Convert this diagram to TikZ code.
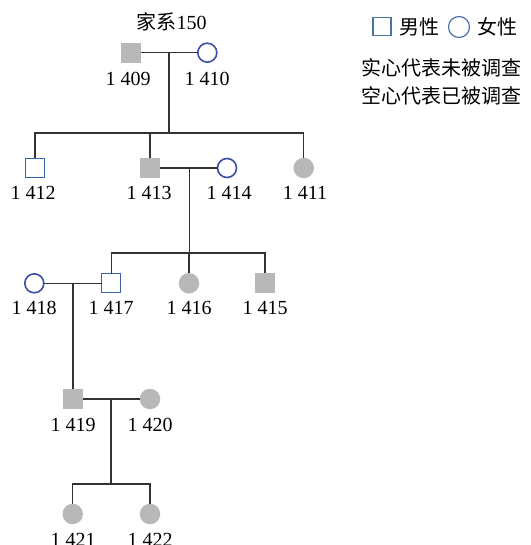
\documentclass[tikz,border=0pt]{standalone}
\usepackage{fontspec}
\setmainfont{Liberation Serif}
\newfontfamily\cjk{Noto Sans CJK SC}
\definecolor{fillgray}{HTML}{B8B8B8}
\definecolor{femblue}{HTML}{3D4FA3}
\definecolor{malblue}{HTML}{3A62AA}
\definecolor{legblue}{HTML}{4A74A4}
\definecolor{linegray}{HTML}{333333}
\begin{document}
\begin{tikzpicture}[x=1pt,y=-1pt,
  every node/.style={inner sep=0pt,outer sep=0pt},
  mfill/.style={rectangle,minimum size=20pt,fill=fillgray},
  mopen/.style={rectangle,minimum size=19pt,draw=malblue,line width=1.1pt,fill=white},
  ffill/.style={circle,minimum size=20.5pt,fill=fillgray},
  fopen/.style={circle,minimum size=19pt,draw=femblue,line width=1.6pt,fill=white},
  lbl/.style={font=\fontsize{20}{24}\selectfont},
  cjklbl/.style={font=\fontsize{20}{24}\selectfont\cjk},
  conn/.style={draw=linegray,line width=1.2pt}]
\useasboundingbox (0,0) rectangle (530,545);
% title
\node[lbl] (title) at (171.5,22) {{\cjk 家系}150};
% legend
\node[rectangle,minimum size=18pt,draw=legblue,line width=1.1pt] (legm) at (382,26.5) {};
\node[cjklbl,anchor=west] (legmt) at (399,26.5) {男性};
\node[circle,minimum size=21pt,draw=legblue,line width=1.2pt] (legf) at (459,27) {};
\node[cjklbl,anchor=west] (legft) at (477,26.5) {女性};
\node[cjklbl,anchor=west] (leg1) at (361,68) {实心代表未被调查};
\node[cjklbl,anchor=west] (leg2) at (361,96) {空心代表已被调查};
% generation 1
\node[mfill] (p1409) at (130.5,52.7) {};
\node[fopen] (p1410) at (207.3,52.7) {};
\node[lbl] at (128,78.5) {1 409};
\node[lbl] at (207,78.5) {1 410};
% generation 2
\node[mopen] (p1412) at (35,168) {};
\node[mfill] (p1413) at (150,168) {};
\node[fopen] (p1414) at (227,168) {};
\node[ffill] (p1411) at (303.7,168) {};
\node[lbl] at (33,192.5) {1 412};
\node[lbl] at (149,192.5) {1 413};
\node[lbl] at (229,192.5) {1 414};
\node[lbl] at (305,192.5) {1 411};
% generation 3
\node[fopen] (p1418) at (34.3,283.3) {};
\node[mopen] (p1417) at (111.3,283.3) {};
\node[ffill] (p1416) at (189,283.3) {};
\node[mfill] (p1415) at (265,283.3) {};
\node[lbl] at (34,307.5) {1 418};
\node[lbl] at (111,307.5) {1 417};
\node[lbl] at (189,307.5) {1 416};
\node[lbl] at (265,307.5) {1 415};
% generation 4
\node[mfill] (p1419) at (73,399) {};
\node[ffill] (p1420) at (150,399) {};
\node[lbl] at (73,424.5) {1 419};
\node[lbl] at (150,424.5) {1 420};
% generation 5
\node[ffill] (p1421) at (72.7,514) {};
\node[ffill] (p1422) at (150,514) {};
\node[lbl] at (73,539.5) {1 421};
\node[lbl] at (150,539.5) {1 422};
% junction coordinates
\coordinate (m1) at (169,52.7);
\coordinate (s1) at (169,133);
\coordinate (m2) at (189.3,168);
\coordinate (s2) at (189.3,253);
\coordinate (m3) at (73,283.3);
\coordinate (m4) at (111,399);
\coordinate (s4) at (111,484);
% connectors
\draw[conn] (p1409.east) -- (p1410.west);
\draw[conn] (m1) -- (s1);
\draw[conn] (p1412.north) |- (s1) -| (p1411.north);
\draw[conn] (p1413.north) -- (p1413.north |- s1);
\draw[conn] (p1413.east) -- (p1414.west);
\draw[conn] (m2) -- (s2);
\draw[conn] (p1417.north) |- (s2) -| (p1415.north);
\draw[conn] (p1416.north) -- (p1416.north |- s2);
\draw[conn] (p1418.east) -- (p1417.west);
\draw[conn] (m3) -- (p1419.north);
\draw[conn] (p1419.east) -- (p1420.west);
\draw[conn] (m4) -- (s4);
\draw[conn] (p1421.north) |- (s4) -| (p1422.north);
\end{tikzpicture}
\end{document}
